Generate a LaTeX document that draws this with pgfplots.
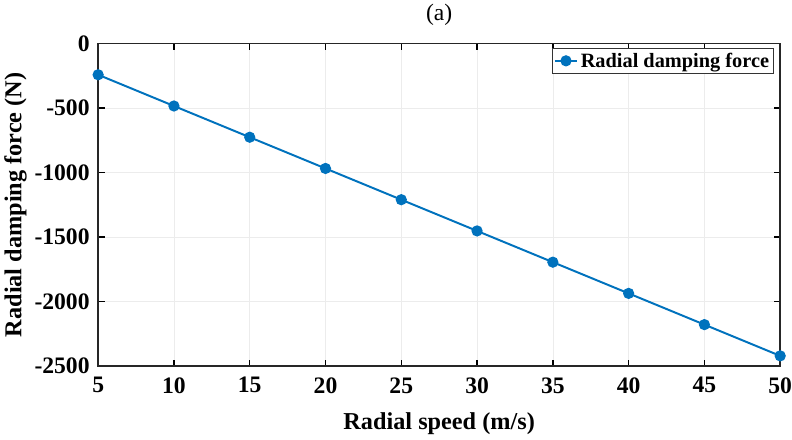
\documentclass[border=0pt]{standalone}
\usepackage{fontspec}
\setmainfont{Liberation Serif}
\usepackage{pgfplots}
\pgfplotsset{compat=1.18}
\definecolor{mblue}{RGB}{0,114,189}

\begin{document}
\begin{tikzpicture}
\begin{axis}[
    width=520pt, height=246pt,
    scale only axis,
    xmin=5, xmax=50,
    ymin=-2500, ymax=0,
    xtick={5,10,...,50},
    ytick={-2500,-2000,...,0},
    tick align=inside,
    major tick length=5pt,
    tick style={black, line width=1pt},
    axis line style={line width=1.1pt, black!85},
    grid=major,
    grid style={gray!15, line width=0.5pt},
    /pgf/number format/assume math mode=true,
    /pgf/number format/1000 sep={},
    scaled ticks=false,
    ticklabel style={font=\fontsize{18}{20}\selectfont\bfseries},
    yticklabel style={xshift=-3pt},
    xticklabel style={yshift=-5pt, inner xsep=0pt},
    label style={font=\fontsize{18.5}{21}\selectfont\bfseries},
    xlabel={Radial speed (m/s)},
    ylabel={Radial damping force (N)},
    xlabel style={yshift=-8pt},
    ylabel style={yshift=-1pt},
    title={(a)},
    title style={font=\fontsize{18}{20}\selectfont, yshift=4pt},
    legend style={at={(0.99,0.985)}, anchor=north east,
        font=\fontsize{15.5}{17}\selectfont\bfseries,
        draw=black!80, line width=0.6pt, inner sep=1pt,
        row sep=0pt},
    legend cell align=left,
    legend image post style={line width=1.5pt},
]
\addplot[mblue, line width=1.5pt, mark=*, mark size=3.5pt,
         mark options={fill=mblue, draw=mblue}]
coordinates {
    (5,  -242)
    (10, -484)
    (15, -726)
    (20, -968)
    (25, -1210)
    (30, -1452)
    (35, -1694)
    (40, -1936)
    (45, -2178)
    (50, -2420)
};
\legend{Radial damping force}
\end{axis}
\end{tikzpicture}
\end{document}
